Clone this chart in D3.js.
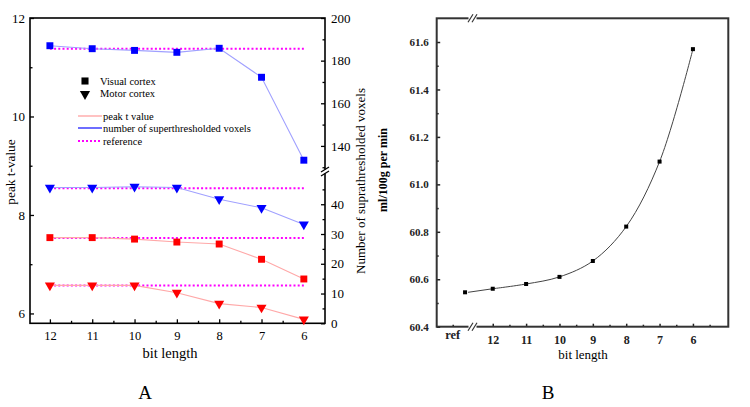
<!DOCTYPE html>
<html><head><meta charset="utf-8">
<script src="https://cdn.jsdelivr.net/npm/d3@7"></script>
<style>body{margin:0;background:#fff}svg{display:block}text{font-family:"Liberation Serif","Times New Roman",serif}</style>
</head><body>
<svg id="c" width="750" height="407"></svg>
<script>
// ---------- data (chart A) ----------
const bitsA = [12, 11, 10, 9, 8, 7, 6];
const visualVoxels = [187, 185.6, 184.8, 183.9, 185.8, 172.2, 133.3];
const motorVoxels = [45.6, 45.6, 45.9, 45.6, 41.7, 38.8, 33.2];
const visualPeakT = [7.54, 7.54, 7.51, 7.45, 7.41, 7.10, 6.70];
const motorPeakT = [6.57, 6.57, 6.57, 6.42, 6.20, 6.12, 5.88];
const refVisualVoxels = 185.6;
const refMotorVoxels = 45.4;
const refVisualT = 7.53;
const refMotorT = 6.57;
const leftTicksA = [6, 8, 10, 12];
const rightTicksA = [0, 10, 20, 30, 40, 140, 160, 180, 200];
// ---------- data (chart B) ----------
const bitsB = ["ref", "12", "11", "10", "9", "8", "7", "6"];
const perfusion = [60.545, 60.56, 60.58, 60.61, 60.677, 60.822, 61.096, 61.57];
const yTicksB = [60.4, 60.6, 60.8, 61.0, 61.2, 61.4, 61.6];

const svg = d3.select("#c");
const BLUE = "#0000ff", RED = "#ff0000", LBLUE = "#a0a0ff", LRED = "#ffa8a8", MAG = "#ff00ff";

// ================= Chart A =================
const A = {l: 30, r: 325, t: 18, b: 323.3};
const xA = d3.scaleLinear().domain([12.47, 5.5]).range([A.l, A.r]);
const yL = d3.scaleLinear().domain([5.8, 12]).range([A.b, A.t]);
const yR = d3.scaleLinear().domain([0, 51, 128, 200]).range([A.b, 171.5, 171.5, A.t]);

const gA = svg.append("g");
// axes
gA.append("g").attr("class", "lab").attr("transform", `translate(${A.l},0)`)
  .call(d3.axisLeft(yL).tickValues(leftTicksA).tickFormat(d3.format("d")).tickSize(-4).tickPadding(5))
  .call(g => g.select(".domain").remove());
gA.append("g").attr("transform", `translate(${A.l},0)`)
  .call(d3.axisLeft(yL).tickValues([7, 9, 11]).tickFormat("").tickSize(-2.5))
  .call(g => g.select(".domain").remove());
gA.append("g").attr("class", "lab").attr("transform", `translate(${A.r},0)`)
  .call(d3.axisRight(yR).tickValues(rightTicksA).tickFormat(d3.format("d")).tickSize(-4).tickPadding(6))
  .call(g => g.select(".domain").remove());
gA.append("g").attr("transform", `translate(${A.r},0)`)
  .call(d3.axisRight(yR).tickValues([5, 15, 25, 35, 45, 130, 150, 170, 190]).tickFormat("").tickSize(-2.5))
  .call(g => g.select(".domain").remove());
gA.append("g").attr("class", "labx").attr("transform", `translate(0,${A.b})`)
  .call(d3.axisBottom(xA).tickValues(bitsA).tickFormat(d3.format("d")).tickSize(-4).tickPadding(8))
  .call(g => g.select(".domain").remove());
gA.append("g").attr("transform", `translate(0,${A.b})`)
  .call(d3.axisBottom(xA).tickValues([11.5, 10.5, 9.5, 8.5, 7.5, 6.5]).tickFormat("").tickSize(-2.5))
  .call(g => g.select(".domain").remove());
gA.selectAll(".lab .tick text").style("font-size", "13px").style("font-family", "Liberation Serif").attr("fill", "#000");
gA.selectAll(".labx .tick text").style("font-size", "12.5px").style("font-family", "Liberation Serif").attr("fill", "#000");
gA.selectAll(".tick line").attr("stroke", "#000").attr("stroke-width", 1.3);

gA.append("rect").attr("x", A.l).attr("y", A.t).attr("width", A.r - A.l).attr("height", A.b - A.t)
  .attr("fill", "none").attr("stroke", "#000").attr("stroke-width", 1.6);
// axis break on right axis
const brkY = yR(51);
gA.append("rect").attr("x", A.r - 3).attr("y", brkY - 2).attr("width", 6).attr("height", 4).attr("fill", "#fff");
[-2, 2].forEach(o => gA.append("line").attr("x1", A.r - 4).attr("x2", A.r + 4)
  .attr("y1", brkY + o + 2.5).attr("y2", brkY + o - 2.5).attr("stroke", "#000").attr("stroke-width", 1.3));

// reference lines
const refs = [[refVisualVoxels, yR], [refMotorVoxels, yR], [refVisualT, yL], [refMotorT, yL]];
refs.forEach(([v, s]) => gA.append("line").attr("x1", xA(12)).attr("x2", xA(6))
  .attr("y1", s(v)).attr("y2", s(v)).attr("stroke", MAG).attr("stroke-width", 2).attr("stroke-dasharray", "2,2.2"));

const seriesA = [
  {vals: visualVoxels, s: yR, c: BLUE, lc: LBLUE, m: "sq"},
  {vals: motorVoxels, s: yR, c: BLUE, lc: LBLUE, m: "tri"},
  {vals: visualPeakT, s: yL, c: RED, lc: LRED, m: "sq"},
  {vals: motorPeakT, s: yL, c: RED, lc: LRED, m: "tri"}
];
const symSq = d3.symbol().type(d3.symbolSquare).size(48)();
const symTri = d3.symbol().type(d3.symbolTriangle).size(44)();
seriesA.forEach(S => {
  const pts = bitsA.map((b, i) => [xA(b), S.s(S.vals[i])]);
  gA.append("path").attr("d", d3.line()(pts)).attr("fill", "none").attr("stroke", S.lc).attr("stroke-width", 1.1);
  gA.selectAll(null).data(pts).join("path")
    .attr("d", S.m === "sq" ? symSq : symTri)
    .attr("transform", d => `translate(${d[0]},${d[1]})` + (S.m === "tri" ? " rotate(180)" : ""))
    .attr("fill", S.c);
});

// legend
const lg = gA.append("g").style("font-size", "10.5px");
lg.append("path").attr("d", d3.symbol().type(d3.symbolSquare).size(50)()).attr("transform", "translate(85,81)");
lg.append("text").attr("x", 100).attr("y", 84.5).text("Visual cortex");
lg.append("path").attr("d", d3.symbol().type(d3.symbolTriangle).size(45)()).attr("transform", "translate(85,94) rotate(180)");
lg.append("text").attr("x", 100).attr("y", 97).text("Motor cortex");
const legLines = [["peak t value", LRED, null, 116], ["number of superthresholded voxels", "#3030ff", null, 128], ["reference", MAG, "2,2", 141]];
legLines.forEach(([t, c, d, y]) => {
  lg.append("line").attr("x1", 78).attr("x2", 102).attr("y1", y).attr("y2", y).attr("stroke", c)
    .attr("stroke-width", d ? 2 : 1.4).attr("stroke-dasharray", d);
  lg.append("text").attr("x", 103).attr("y", y + 3.5).text(t);
});

// titles A
gA.append("text").attr("transform", "translate(15,172) rotate(-90)").attr("text-anchor", "middle")
  .style("font-size", "13.3px").text("peak t-value");
gA.append("text").attr("transform", "translate(365,181) rotate(-90)").attr("text-anchor", "middle")
  .style("font-size", "13px").text("Number of suprathresholded voxels");
gA.append("text").attr("x", 170).attr("y", 358).attr("text-anchor", "middle").style("font-size", "14.5px").text("bit length");
gA.append("text").attr("x", 145).attr("y", 399).attr("text-anchor", "middle").style("font-size", "19px").text("A");

// ================= Chart B =================
const B = {l: 436.7, r: 728.3, t: 18.3, b: 326.7};
const REF_POS = 12.83, REF_LABEL_POS = 13.2;
const xB = d3.scaleLinear().domain([13.68, 4.94]).range([B.l, B.r]);
const yB = d3.scaleLinear().domain([60.4, 61.7]).range([B.b, B.t]);
const posB = c => c === "ref" ? REF_POS : +c;
const gB = svg.append("g");

gB.append("g").attr("class", "laby").attr("transform", `translate(${B.l},0)`)
  .call(d3.axisLeft(yB).tickValues(yTicksB).tickFormat(d3.format(".1f")).tickSize(-3.5).tickPadding(8))
  .call(g => g.select(".domain").remove());
gB.append("g").attr("transform", `translate(${B.l},0)`)
  .call(d3.axisLeft(yB).tickValues([60.5, 60.7, 60.9, 61.1, 61.3, 61.5]).tickFormat("").tickSize(-2))
  .call(g => g.select(".domain").remove());
gB.append("g").attr("class", "labx").attr("transform", `translate(0,${B.b})`)
  .call(d3.axisBottom(xB).tickValues(bitsB.slice(1).map(Number)).tickFormat(d3.format("d")).tickSize(-3).tickPadding(9))
  .call(g => g.select(".domain").remove());
gB.append("g").attr("transform", `translate(0,${B.b})`)
  .call(d3.axisBottom(xB).tickValues([REF_LABEL_POS, 11.5, 10.5, 9.5, 8.5, 7.5, 6.5, 5.5]).tickFormat("").tickSize(-2))
  .call(g => g.select(".domain").remove());
gB.selectAll(".laby .tick text").style("font-size", "11px").style("font-weight", "bold").style("font-family", "Liberation Serif").attr("fill", "#222");
gB.selectAll(".labx .tick text").style("font-size", "12px").style("font-weight", "bold").style("font-family", "Liberation Serif").attr("fill", "#222");
gB.selectAll(".tick line").attr("stroke", "#222").attr("stroke-width", 1.5);
gB.append("text").attr("x", xB(REF_LABEL_POS)).attr("y", 338.5).attr("text-anchor", "middle")
  .style("font-size", "12.5px").style("font-weight", "bold").attr("fill", "#222").text("ref");

gB.append("rect").attr("x", B.l).attr("y", B.t).attr("width", B.r - B.l).attr("height", B.b - B.t)
  .attr("fill", "none").attr("stroke", "#333").attr("stroke-width", 2);
// breaks
const bx = 472.5;
[B.t, B.b].forEach(y => {
  gB.append("rect").attr("x", bx - 4).attr("y", y - 2).attr("width", 8).attr("height", 4).attr("fill", "#fff");
  [-2, 2].forEach(o => gB.append("line").attr("x1", bx + o - 2.5).attr("x2", bx + o + 2.5)
    .attr("y1", y + 4).attr("y2", y - 4).attr("stroke", "#333").attr("stroke-width", 1.2));
});

const ptsB = bitsB.map((c, i) => [xB(posB(c)), yB(perfusion[i])]);
gB.append("path").attr("d", d3.line().curve(d3.curveCatmullRom)(ptsB.slice(1))).attr("fill", "none").attr("stroke", "#444").attr("stroke-width", 1);
gB.append("line").attr("x1", ptsB[0][0] + 3).attr("y1", ptsB[0][1]).attr("x2", ptsB[1][0]).attr("y2", ptsB[1][1])
  .attr("stroke", "#444").attr("stroke-width", 1);
gB.selectAll(null).data(ptsB).join("rect")
  .attr("x", d => d[0] - 2).attr("y", d => d[1] - 2).attr("width", 4).attr("height", 4).attr("fill", "#000");

gB.append("text").attr("transform", "translate(387,170) rotate(-90)").attr("text-anchor", "middle")
  .style("font-size", "12px").style("font-weight", "bold").text("ml/100g per min");
gB.append("text").attr("x", 583).attr("y", 358.5).attr("text-anchor", "middle").style("font-size", "13px").text("bit length");
gB.append("text").attr("x", 548).attr("y", 399).attr("text-anchor", "middle").style("font-size", "19px").text("B");
</script>
</body></html>
